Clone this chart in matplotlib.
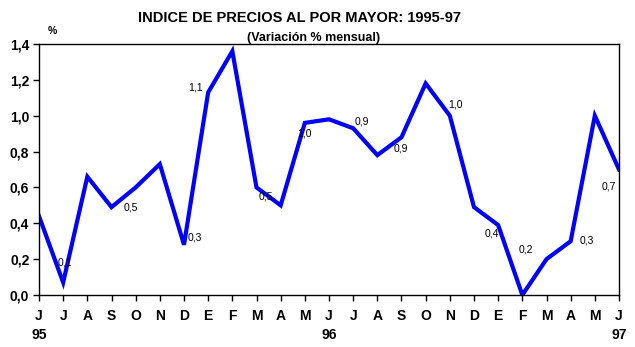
import numpy as np
import matplotlib.pyplot as plt

plt.rcParams['font.family'] = ['Liberation Sans', 'DejaVu Sans']

# monthly change, June 1995 .. June 1997
months = ['J', 'J', 'A', 'S', 'O', 'N', 'D', 'E', 'F', 'M', 'A', 'M',
          'J', 'J', 'A', 'S', 'O', 'N', 'D', 'E', 'F', 'M', 'A', 'M', 'J']
years = {0: '95', 12: '96', 24: '97'}
values = [0.44, 0.07, 0.66, 0.49, 0.60, 0.73, 0.28, 1.13, 1.36, 0.60, 0.50, 0.96,
          0.98, 0.93, 0.78, 0.88, 1.18, 1.00, 0.49, 0.39, 0.00, 0.20, 0.30, 1.00, 0.70]

# labelled points: index, text, offset in pixels (dx, dy)
lab_idx = [1, 3, 6, 7, 9, 11, 13, 15, 17, 19, 20, 22, 24]
lab_txt = ['0,1', '0,5', '0,3', '1,1', '0,5', '1,0', '0,9', '0,9', '1,0', '0,4', '0,2', '0,3', '0,7']
lab_off = [(2, 20), (19, 0), (11, 7), (-13, 5), (9, -9), (0, -11), (9, 7),
           (-1, -11), (6, 11), (-6, -8), (4, 46), (16, 1), (-10, -17)]

fig = plt.figure(figsize=(6.35, 3.47), dpi=100)
ax = fig.add_axes([39/635, 52/347, 580/635, 251/347])

x = np.arange(len(values))
ax.plot(x, values, color='#0000ff', lw=3, solid_joinstyle='miter')

for i, t, (dx, dy) in zip(lab_idx, lab_txt, lab_off):
    ax.annotate(t, (x[i], values[i]), xytext=(dx*0.72, dy*0.72),
                textcoords='offset points', ha='center', va='center', fontsize=7.5)

ax.set_xlim(0, 24)
ax.set_ylim(0, 1.4)
ax.set_yticks(np.arange(0, 1.41, 0.2))
ax.set_yticklabels([f'{v:.1f}'.replace('.', ',') for v in np.arange(0, 1.41, 0.2)],
                   fontsize=10, fontweight='bold')
ax.set_xticks(x)
ax.set_xticklabels([m + ('\n' + years[i] if i in years else '') for i, m in enumerate(months)],
                   fontsize=10, fontweight='bold', linespacing=1.45)
ax.tick_params(axis='x', length=4, width=1, pad=6)
ax.tick_params(axis='y', length=4, width=1, pad=3)
for s in ax.spines.values():
    s.set_linewidth(1)

fig.text(300/635, 1 - 18/347, 'INDICE DE PRECIOS AL POR MAYOR: 1995-97',
         ha='center', va='center', fontsize=10.5, fontweight='bold')
fig.text(314/635, 1 - 38/347, '(Variación % mensual)',
         ha='center', va='center', fontsize=9, fontweight='bold')
fig.text(52/635, 1 - 31/347, '%', ha='center', va='center', fontsize=7.5, fontweight='bold')

fig.savefig('out.png', dpi=100)
